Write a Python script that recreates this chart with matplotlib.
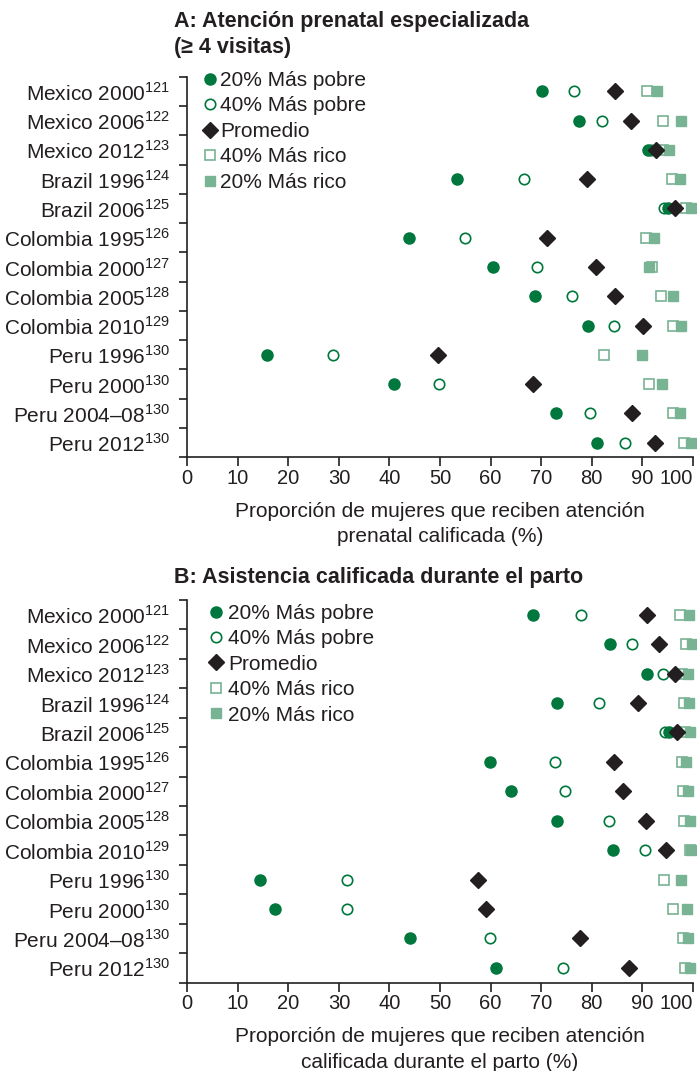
import matplotlib

matplotlib.use("Agg")
import matplotlib.pyplot as plt  # noqa: E402
from matplotlib.lines import Line2D  # noqa: E402

plt.rcParams["font.family"] = ["Liberation Sans", "DejaVu Sans"]
plt.rcParams["mathtext.fontset"] = "custom"
plt.rcParams["mathtext.rm"] = "Liberation Sans"

TEXT = "#231f20"
DARK_GREEN = "#00773c"
LIGHT_GREEN = "#78b394"
FS = 15

surveys = ["Mexico 2000", "Mexico 2006", "Mexico 2012", "Brazil 1996", "Brazil 2006",
           "Colombia 1995", "Colombia 2000", "Colombia 2005", "Colombia 2010",
           "Peru 1996", "Peru 2000", "Peru 2004–08", "Peru 2012"]
refs = ["121", "122", "123", "124", "125", "126", "127", "128", "129",
        "130", "130", "130", "130"]

# A: atención prenatal (>= 4 visitas)
poor20_a = [70.2, 77.4, 91.2, 53.3, 95.1, 43.8, 60.4, 68.7, 79.2, 15.8, 40.8, 72.9, 81.1]
poor40_a = [76.6, 82.0, 91.8, 66.7, 94.3, 55.0, 69.1, 76.2, 84.4, 28.9, 49.8, 79.6, 86.5]
mean_a = [84.7, 87.7, 92.7, 79.1, 96.4, 71.2, 80.8, 84.7, 90.1, 49.7, 68.3, 87.9, 92.5]
rich40_a = [91.0, 94.1, 94.1, 95.9, 98.6, 90.8, 92.0, 93.7, 96.0, 82.4, 91.3, 96.0, 98.2]
rich20_a = [93.0, 97.6, 95.3, 97.4, 99.7, 92.3, 91.3, 96.0, 97.7, 90.0, 93.9, 97.4, 99.7]

# B: asistencia calificada durante el parto
poor20_b = [68.3, 83.7, 91.0, 73.1, 95.3, 59.9, 64.0, 73.1, 84.2, 14.4, 17.3, 44.0, 61.1]
poor40_b = [77.8, 87.9, 94.1, 81.5, 94.6, 72.8, 74.7, 83.5, 90.5, 31.6, 31.6, 59.8, 74.3]
mean_b = [91.0, 93.4, 96.4, 89.1, 96.9, 84.4, 86.3, 90.8, 94.8, 57.5, 59.0, 77.7, 87.3]
rich40_b = [97.4, 98.6, 97.9, 98.2, 98.4, 97.9, 98.0, 98.2, 99.4, 94.4, 96.1, 98.1, 98.4]
rich20_b = [99.2, 99.9, 99.0, 99.3, 99.5, 98.7, 99.0, 99.4, 99.7, 97.6, 98.8, 99.1, 99.4]

x_ticks = list(range(0, 101, 10))
legend_labels = ["20% Más pobre", "40% Más pobre", "Promedio", "40% Más rico", "20% Más rico"]


def draw_panel(ax, p20, p40, avg, r40, r20, xlabel, leg_anchor, textpad):
    y = list(range(len(surveys)))
    # orden de dibujo: cuadrados, círculos, rombo encima
    h_r40, = ax.plot(r40, y, "s", ms=7, mfc="white", mec=LIGHT_GREEN, mew=1.2,
                     ls="none", clip_on=False)
    h_r20, = ax.plot(r20, y, "s", ms=7, mfc=LIGHT_GREEN, mec=LIGHT_GREEN,
                     ls="none", clip_on=False)
    h_p40, = ax.plot(p40, y, "o", ms=7.5, mfc="white", mec=DARK_GREEN, mew=1.2,
                     ls="none", clip_on=False)
    h_p20, = ax.plot(p20, y, "o", ms=8, mfc=DARK_GREEN, mec=DARK_GREEN,
                     ls="none", clip_on=False)
    h_avg, = ax.plot(avg, y, "D", ms=8, mfc=TEXT, mec=TEXT,
                     ls="none", clip_on=False)

    ax.set_xlim(0, 100)
    ax.set_ylim(len(surveys) - 0.5, -0.5)
    ax.set_xticks(x_ticks)
    ax.set_xticklabels([str(v) for v in x_ticks])
    ax.get_xticklabels()[-1].set_horizontalalignment("right")
    ax.get_xticklabels()[-1].set_x(100.6)
    ax.tick_params(axis="x", length=6.5, width=1.2, pad=2, labelsize=14.5, colors=TEXT)
    ax.set_yticks([i - 0.5 for i in range(len(surveys) + 1)])
    ax.set_yticklabels([])
    ax.set_yticks(y, minor=True)
    ax.set_yticklabels([f"{s}$^{{{r}}}$" for s, r in zip(surveys, refs)], minor=True)
    ax.tick_params(axis="y", which="major", length=6, width=1.2, colors=TEXT)
    ax.tick_params(axis="y", which="minor", length=0, pad=12, labelsize=FS, colors=TEXT)
    for side in ("top", "right"):
        ax.spines[side].set_visible(False)
    for side in ("left", "bottom"):
        ax.spines[side].set_linewidth(1.2)
        ax.spines[side].set_color(TEXT)
    ax.set_xlabel(xlabel, fontsize=FS, color=TEXT, linespacing=1.42, labelpad=10)

    handles = [h_p20, h_p40, h_avg, h_r40, h_r20]
    leg_handles = [Line2D([], [], ls="none", marker=h.get_marker(), ms=h.get_markersize(),
                          mfc=h.get_markerfacecolor(), mec=h.get_markeredgecolor(),
                          mew=h.get_markeredgewidth()) for h in handles]
    ax.legend(leg_handles, legend_labels, loc="upper left", bbox_to_anchor=leg_anchor,
              frameon=False, fontsize=FS, labelspacing=0.31, handlelength=0.6,
              handletextpad=textpad, borderaxespad=0, borderpad=0, labelcolor=TEXT)


fig = plt.figure(figsize=(6.97, 10.71), dpi=100)
ax_a = fig.add_axes([0.2687, 0.5730, 0.7252, 0.3554])
ax_b = fig.add_axes([0.2687, 0.0825, 0.7252, 0.3573])

draw_panel(ax_a, poor20_a, poor40_a, mean_a, rich40_a, rich20_a,
           "Proporción de mujeres que reciben atención\nprenatal calificada (%)",
           (0.032, 1.015), 0.2)
draw_panel(ax_b, poor20_b, poor40_b, mean_b, rich40_b, rich20_b,
           "Proporción de mujeres que reciben atención\ncalificada durante el parto (%)",
           (0.044, 0.99), 0.3)

fig.text(174 / 697, 1 - 22 / 1071, "A: Atención prenatal especializada",
         fontsize=15.5, fontweight="bold", color=TEXT, va="center", ha="left")
fig.text(174 / 697, 1 - 48 / 1071, "(≥ 4 visitas)",
         fontsize=15.5, fontweight="bold", color=TEXT, va="center", ha="left")
fig.text(174 / 697, 1 - 577 / 1071, "B: Asistencia calificada durante el parto",
         fontsize=15.5, fontweight="bold", color=TEXT, va="center", ha="left")

fig.savefig("out.png", dpi=100)
